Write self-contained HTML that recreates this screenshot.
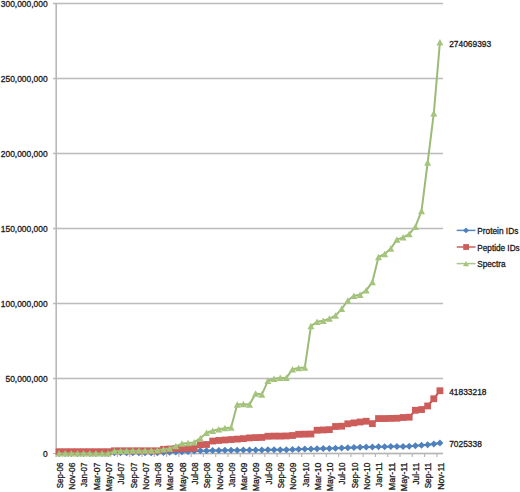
<!DOCTYPE html>
<html><head><meta charset="utf-8"><style>
html,body{margin:0;padding:0;background:#fff;width:520px;height:492px;overflow:hidden;}
svg{display:block;font-family:"Liberation Sans",sans-serif;}
</style></head><body>
<svg width="520" height="492" viewBox="0 0 520 492">
<line x1="53" y1="3.5" x2="443" y2="3.5" stroke="#ececec" stroke-width="3"/>
<line x1="53" y1="3.5" x2="443" y2="3.5" stroke="#bcbcbc" stroke-width="1"/>
<line x1="53" y1="78.5" x2="443" y2="78.5" stroke="#ececec" stroke-width="3"/>
<line x1="53" y1="78.5" x2="443" y2="78.5" stroke="#bcbcbc" stroke-width="1"/>
<line x1="53" y1="153.5" x2="443" y2="153.5" stroke="#ececec" stroke-width="3"/>
<line x1="53" y1="153.5" x2="443" y2="153.5" stroke="#bcbcbc" stroke-width="1"/>
<line x1="53" y1="228.5" x2="443" y2="228.5" stroke="#ececec" stroke-width="3"/>
<line x1="53" y1="228.5" x2="443" y2="228.5" stroke="#bcbcbc" stroke-width="1"/>
<line x1="53" y1="303.5" x2="443" y2="303.5" stroke="#ececec" stroke-width="3"/>
<line x1="53" y1="303.5" x2="443" y2="303.5" stroke="#bcbcbc" stroke-width="1"/>
<line x1="53" y1="378.5" x2="443" y2="378.5" stroke="#ececec" stroke-width="3"/>
<line x1="53" y1="378.5" x2="443" y2="378.5" stroke="#bcbcbc" stroke-width="1"/>
<line x1="56" y1="453.5" x2="443" y2="453.5" stroke="#e6e6e6" stroke-width="3"/>
<line x1="53" y1="453.5" x2="443" y2="453.5" stroke="#b4b4b4" stroke-width="1"/>
<line x1="56.2" y1="3" x2="56.2" y2="454" stroke="#b8b8b8" stroke-width="1.6"/>
<line x1="56.00" y1="453.5" x2="56.00" y2="457" stroke="#b8b8b8" stroke-width="1.2"/>
<line x1="68.29" y1="453.5" x2="68.29" y2="457" stroke="#b8b8b8" stroke-width="1.2"/>
<line x1="80.57" y1="453.5" x2="80.57" y2="457" stroke="#b8b8b8" stroke-width="1.2"/>
<line x1="92.86" y1="453.5" x2="92.86" y2="457" stroke="#b8b8b8" stroke-width="1.2"/>
<line x1="105.14" y1="453.5" x2="105.14" y2="457" stroke="#b8b8b8" stroke-width="1.2"/>
<line x1="117.43" y1="453.5" x2="117.43" y2="457" stroke="#b8b8b8" stroke-width="1.2"/>
<line x1="129.72" y1="453.5" x2="129.72" y2="457" stroke="#b8b8b8" stroke-width="1.2"/>
<line x1="142.00" y1="453.5" x2="142.00" y2="457" stroke="#b8b8b8" stroke-width="1.2"/>
<line x1="154.29" y1="453.5" x2="154.29" y2="457" stroke="#b8b8b8" stroke-width="1.2"/>
<line x1="166.57" y1="453.5" x2="166.57" y2="457" stroke="#b8b8b8" stroke-width="1.2"/>
<line x1="178.86" y1="453.5" x2="178.86" y2="457" stroke="#b8b8b8" stroke-width="1.2"/>
<line x1="191.15" y1="453.5" x2="191.15" y2="457" stroke="#b8b8b8" stroke-width="1.2"/>
<line x1="203.43" y1="453.5" x2="203.43" y2="457" stroke="#b8b8b8" stroke-width="1.2"/>
<line x1="215.72" y1="453.5" x2="215.72" y2="457" stroke="#b8b8b8" stroke-width="1.2"/>
<line x1="228.00" y1="453.5" x2="228.00" y2="457" stroke="#b8b8b8" stroke-width="1.2"/>
<line x1="240.29" y1="453.5" x2="240.29" y2="457" stroke="#b8b8b8" stroke-width="1.2"/>
<line x1="252.58" y1="453.5" x2="252.58" y2="457" stroke="#b8b8b8" stroke-width="1.2"/>
<line x1="264.86" y1="453.5" x2="264.86" y2="457" stroke="#b8b8b8" stroke-width="1.2"/>
<line x1="277.15" y1="453.5" x2="277.15" y2="457" stroke="#b8b8b8" stroke-width="1.2"/>
<line x1="289.43" y1="453.5" x2="289.43" y2="457" stroke="#b8b8b8" stroke-width="1.2"/>
<line x1="301.72" y1="453.5" x2="301.72" y2="457" stroke="#b8b8b8" stroke-width="1.2"/>
<line x1="314.01" y1="453.5" x2="314.01" y2="457" stroke="#b8b8b8" stroke-width="1.2"/>
<line x1="326.29" y1="453.5" x2="326.29" y2="457" stroke="#b8b8b8" stroke-width="1.2"/>
<line x1="338.58" y1="453.5" x2="338.58" y2="457" stroke="#b8b8b8" stroke-width="1.2"/>
<line x1="350.86" y1="453.5" x2="350.86" y2="457" stroke="#b8b8b8" stroke-width="1.2"/>
<line x1="363.15" y1="453.5" x2="363.15" y2="457" stroke="#b8b8b8" stroke-width="1.2"/>
<line x1="375.44" y1="453.5" x2="375.44" y2="457" stroke="#b8b8b8" stroke-width="1.2"/>
<line x1="387.72" y1="453.5" x2="387.72" y2="457" stroke="#b8b8b8" stroke-width="1.2"/>
<line x1="400.01" y1="453.5" x2="400.01" y2="457" stroke="#b8b8b8" stroke-width="1.2"/>
<line x1="412.29" y1="453.5" x2="412.29" y2="457" stroke="#b8b8b8" stroke-width="1.2"/>
<line x1="424.58" y1="453.5" x2="424.58" y2="457" stroke="#b8b8b8" stroke-width="1.2"/>
<line x1="436.87" y1="453.5" x2="436.87" y2="457" stroke="#b8b8b8" stroke-width="1.2"/>
<text x="0.83" y="6.7" textLength="46.77" lengthAdjust="spacingAndGlyphs" font-size="8.7" fill="#1a1a1a" stroke="#1a1a1a" stroke-width="0.3">300,000,000</text>
<text x="0.83" y="81.7" textLength="46.77" lengthAdjust="spacingAndGlyphs" font-size="8.7" fill="#1a1a1a" stroke="#1a1a1a" stroke-width="0.3">250,000,000</text>
<text x="0.83" y="156.7" textLength="46.77" lengthAdjust="spacingAndGlyphs" font-size="8.7" fill="#1a1a1a" stroke="#1a1a1a" stroke-width="0.3">200,000,000</text>
<text x="0.83" y="231.7" textLength="46.77" lengthAdjust="spacingAndGlyphs" font-size="8.7" fill="#1a1a1a" stroke="#1a1a1a" stroke-width="0.3">150,000,000</text>
<text x="0.83" y="306.7" textLength="46.77" lengthAdjust="spacingAndGlyphs" font-size="8.7" fill="#1a1a1a" stroke="#1a1a1a" stroke-width="0.3">100,000,000</text>
<text x="5.52" y="381.7" textLength="42.08" lengthAdjust="spacingAndGlyphs" font-size="8.7" fill="#1a1a1a" stroke="#1a1a1a" stroke-width="0.3">50,000,000</text>
<text x="42.92" y="456.7" textLength="4.68" lengthAdjust="spacingAndGlyphs" font-size="8.7" fill="#1a1a1a" stroke="#1a1a1a" stroke-width="0.3">0</text>
<text transform="translate(62.87,462.6) rotate(-90)" x="-25.75" textLength="25.75" lengthAdjust="spacingAndGlyphs" font-size="8.7" fill="#1a1a1a" stroke="#1a1a1a" stroke-width="0.3">Sep-06</text>
<text transform="translate(75.16,462.6) rotate(-90)" x="-27.06" textLength="27.06" lengthAdjust="spacingAndGlyphs" font-size="8.7" fill="#1a1a1a" stroke="#1a1a1a" stroke-width="0.3">Nov-06</text>
<text transform="translate(87.44,462.6) rotate(-90)" x="-24.29" textLength="24.29" lengthAdjust="spacingAndGlyphs" font-size="8.7" fill="#1a1a1a" stroke="#1a1a1a" stroke-width="0.3">Jan-07</text>
<text transform="translate(99.73,462.6) rotate(-90)" x="-27.60" textLength="27.60" lengthAdjust="spacingAndGlyphs" font-size="8.7" fill="#1a1a1a" stroke="#1a1a1a" stroke-width="0.3">Mar-07</text>
<text transform="translate(112.02,462.6) rotate(-90)" x="-28.55" textLength="28.55" lengthAdjust="spacingAndGlyphs" font-size="8.7" fill="#1a1a1a" stroke="#1a1a1a" stroke-width="0.3">May-07</text>
<text transform="translate(124.30,462.6) rotate(-90)" x="-21.99" textLength="21.99" lengthAdjust="spacingAndGlyphs" font-size="8.7" fill="#1a1a1a" stroke="#1a1a1a" stroke-width="0.3">Jul-07</text>
<text transform="translate(136.59,462.6) rotate(-90)" x="-25.75" textLength="25.75" lengthAdjust="spacingAndGlyphs" font-size="8.7" fill="#1a1a1a" stroke="#1a1a1a" stroke-width="0.3">Sep-07</text>
<text transform="translate(148.87,462.6) rotate(-90)" x="-27.06" textLength="27.06" lengthAdjust="spacingAndGlyphs" font-size="8.7" fill="#1a1a1a" stroke="#1a1a1a" stroke-width="0.3">Nov-07</text>
<text transform="translate(161.16,462.6) rotate(-90)" x="-24.29" textLength="24.29" lengthAdjust="spacingAndGlyphs" font-size="8.7" fill="#1a1a1a" stroke="#1a1a1a" stroke-width="0.3">Jan-08</text>
<text transform="translate(173.45,462.6) rotate(-90)" x="-27.60" textLength="27.60" lengthAdjust="spacingAndGlyphs" font-size="8.7" fill="#1a1a1a" stroke="#1a1a1a" stroke-width="0.3">Mar-08</text>
<text transform="translate(185.73,462.6) rotate(-90)" x="-28.55" textLength="28.55" lengthAdjust="spacingAndGlyphs" font-size="8.7" fill="#1a1a1a" stroke="#1a1a1a" stroke-width="0.3">May-08</text>
<text transform="translate(198.02,462.6) rotate(-90)" x="-21.99" textLength="21.99" lengthAdjust="spacingAndGlyphs" font-size="8.7" fill="#1a1a1a" stroke="#1a1a1a" stroke-width="0.3">Jul-08</text>
<text transform="translate(210.30,462.6) rotate(-90)" x="-25.75" textLength="25.75" lengthAdjust="spacingAndGlyphs" font-size="8.7" fill="#1a1a1a" stroke="#1a1a1a" stroke-width="0.3">Sep-08</text>
<text transform="translate(222.59,462.6) rotate(-90)" x="-27.06" textLength="27.06" lengthAdjust="spacingAndGlyphs" font-size="8.7" fill="#1a1a1a" stroke="#1a1a1a" stroke-width="0.3">Nov-08</text>
<text transform="translate(234.88,462.6) rotate(-90)" x="-24.29" textLength="24.29" lengthAdjust="spacingAndGlyphs" font-size="8.7" fill="#1a1a1a" stroke="#1a1a1a" stroke-width="0.3">Jan-09</text>
<text transform="translate(247.16,462.6) rotate(-90)" x="-27.60" textLength="27.60" lengthAdjust="spacingAndGlyphs" font-size="8.7" fill="#1a1a1a" stroke="#1a1a1a" stroke-width="0.3">Mar-09</text>
<text transform="translate(259.45,462.6) rotate(-90)" x="-28.55" textLength="28.55" lengthAdjust="spacingAndGlyphs" font-size="8.7" fill="#1a1a1a" stroke="#1a1a1a" stroke-width="0.3">May-09</text>
<text transform="translate(271.73,462.6) rotate(-90)" x="-21.99" textLength="21.99" lengthAdjust="spacingAndGlyphs" font-size="8.7" fill="#1a1a1a" stroke="#1a1a1a" stroke-width="0.3">Jul-09</text>
<text transform="translate(284.02,462.6) rotate(-90)" x="-25.75" textLength="25.75" lengthAdjust="spacingAndGlyphs" font-size="8.7" fill="#1a1a1a" stroke="#1a1a1a" stroke-width="0.3">Sep-09</text>
<text transform="translate(296.31,462.6) rotate(-90)" x="-27.06" textLength="27.06" lengthAdjust="spacingAndGlyphs" font-size="8.7" fill="#1a1a1a" stroke="#1a1a1a" stroke-width="0.3">Nov-09</text>
<text transform="translate(308.59,462.6) rotate(-90)" x="-24.29" textLength="24.29" lengthAdjust="spacingAndGlyphs" font-size="8.7" fill="#1a1a1a" stroke="#1a1a1a" stroke-width="0.3">Jan-10</text>
<text transform="translate(320.88,462.6) rotate(-90)" x="-27.60" textLength="27.60" lengthAdjust="spacingAndGlyphs" font-size="8.7" fill="#1a1a1a" stroke="#1a1a1a" stroke-width="0.3">Mar-10</text>
<text transform="translate(333.16,462.6) rotate(-90)" x="-28.55" textLength="28.55" lengthAdjust="spacingAndGlyphs" font-size="8.7" fill="#1a1a1a" stroke="#1a1a1a" stroke-width="0.3">May-10</text>
<text transform="translate(345.45,462.6) rotate(-90)" x="-21.99" textLength="21.99" lengthAdjust="spacingAndGlyphs" font-size="8.7" fill="#1a1a1a" stroke="#1a1a1a" stroke-width="0.3">Jul-10</text>
<text transform="translate(357.74,462.6) rotate(-90)" x="-25.75" textLength="25.75" lengthAdjust="spacingAndGlyphs" font-size="8.7" fill="#1a1a1a" stroke="#1a1a1a" stroke-width="0.3">Sep-10</text>
<text transform="translate(370.02,462.6) rotate(-90)" x="-27.06" textLength="27.06" lengthAdjust="spacingAndGlyphs" font-size="8.7" fill="#1a1a1a" stroke="#1a1a1a" stroke-width="0.3">Nov-10</text>
<text transform="translate(382.31,462.6) rotate(-90)" x="-24.29" textLength="24.29" lengthAdjust="spacingAndGlyphs" font-size="8.7" fill="#1a1a1a" stroke="#1a1a1a" stroke-width="0.3">Jan-11</text>
<text transform="translate(394.59,462.6) rotate(-90)" x="-27.60" textLength="27.60" lengthAdjust="spacingAndGlyphs" font-size="8.7" fill="#1a1a1a" stroke="#1a1a1a" stroke-width="0.3">Mar-11</text>
<text transform="translate(406.88,462.6) rotate(-90)" x="-28.55" textLength="28.55" lengthAdjust="spacingAndGlyphs" font-size="8.7" fill="#1a1a1a" stroke="#1a1a1a" stroke-width="0.3">May-11</text>
<text transform="translate(419.17,462.6) rotate(-90)" x="-21.99" textLength="21.99" lengthAdjust="spacingAndGlyphs" font-size="8.7" fill="#1a1a1a" stroke="#1a1a1a" stroke-width="0.3">Jul-11</text>
<text transform="translate(431.45,462.6) rotate(-90)" x="-25.75" textLength="25.75" lengthAdjust="spacingAndGlyphs" font-size="8.7" fill="#1a1a1a" stroke="#1a1a1a" stroke-width="0.3">Sep-11</text>
<text transform="translate(443.74,462.6) rotate(-90)" x="-27.06" textLength="27.06" lengthAdjust="spacingAndGlyphs" font-size="8.7" fill="#1a1a1a" stroke="#1a1a1a" stroke-width="0.3">Nov-11</text>
<polyline points="59.07,453.50 65.21,453.50 71.36,453.50 77.50,453.50 83.64,453.50 89.79,453.50 95.93,453.50 102.07,453.50 108.22,453.50 114.36,452.75 120.50,452.75 126.64,452.75 132.79,452.75 138.93,452.75 145.07,452.75 151.22,452.75 157.36,452.75 163.50,452.52 169.65,452.30 175.79,452.00 181.93,451.85 188.07,451.40 194.22,451.10 200.36,450.80 206.50,450.65 212.65,450.50 218.79,450.41 224.93,450.32 231.08,450.23 237.22,450.14 243.36,450.05 249.50,449.99 255.65,449.94 261.79,449.88 267.93,449.82 274.08,449.77 280.22,449.71 286.36,449.66 292.51,449.60 298.65,449.30 304.79,449.07 310.93,448.91 317.08,448.75 323.22,448.58 329.36,448.42 335.51,448.25 341.65,448.02 347.79,447.80 353.94,447.57 360.08,447.35 366.22,447.12 372.36,446.90 378.51,446.80 384.65,446.70 390.79,446.60 396.94,446.60 403.08,446.60 409.22,446.30 415.37,445.70 421.51,445.25 427.65,444.80 433.79,444.05 439.94,442.96" fill="none" stroke="#4A7EBB" stroke-width="2.0" stroke-linejoin="round"/>
<g fill="#4F81BD">
<path d="M59.07 450.00L62.57 453.50L59.07 457.00L55.57 453.50Z"/>
<path d="M65.21 450.00L68.71 453.50L65.21 457.00L61.71 453.50Z"/>
<path d="M71.36 450.00L74.86 453.50L71.36 457.00L67.86 453.50Z"/>
<path d="M77.50 450.00L81.00 453.50L77.50 457.00L74.00 453.50Z"/>
<path d="M83.64 450.00L87.14 453.50L83.64 457.00L80.14 453.50Z"/>
<path d="M89.79 450.00L93.29 453.50L89.79 457.00L86.29 453.50Z"/>
<path d="M95.93 450.00L99.43 453.50L95.93 457.00L92.43 453.50Z"/>
<path d="M102.07 450.00L105.57 453.50L102.07 457.00L98.57 453.50Z"/>
<path d="M108.22 450.00L111.72 453.50L108.22 457.00L104.72 453.50Z"/>
<path d="M114.36 449.25L117.86 452.75L114.36 456.25L110.86 452.75Z"/>
<path d="M120.50 449.25L124.00 452.75L120.50 456.25L117.00 452.75Z"/>
<path d="M126.64 449.25L130.14 452.75L126.64 456.25L123.14 452.75Z"/>
<path d="M132.79 449.25L136.29 452.75L132.79 456.25L129.29 452.75Z"/>
<path d="M138.93 449.25L142.43 452.75L138.93 456.25L135.43 452.75Z"/>
<path d="M145.07 449.25L148.57 452.75L145.07 456.25L141.57 452.75Z"/>
<path d="M151.22 449.25L154.72 452.75L151.22 456.25L147.72 452.75Z"/>
<path d="M157.36 449.25L160.86 452.75L157.36 456.25L153.86 452.75Z"/>
<path d="M163.50 449.02L167.00 452.52L163.50 456.02L160.00 452.52Z"/>
<path d="M169.65 448.80L173.15 452.30L169.65 455.80L166.15 452.30Z"/>
<path d="M175.79 448.50L179.29 452.00L175.79 455.50L172.29 452.00Z"/>
<path d="M181.93 448.35L185.43 451.85L181.93 455.35L178.43 451.85Z"/>
<path d="M188.07 447.90L191.57 451.40L188.07 454.90L184.57 451.40Z"/>
<path d="M194.22 447.60L197.72 451.10L194.22 454.60L190.72 451.10Z"/>
<path d="M200.36 447.30L203.86 450.80L200.36 454.30L196.86 450.80Z"/>
<path d="M206.50 447.15L210.00 450.65L206.50 454.15L203.00 450.65Z"/>
<path d="M212.65 447.00L216.15 450.50L212.65 454.00L209.15 450.50Z"/>
<path d="M218.79 446.91L222.29 450.41L218.79 453.91L215.29 450.41Z"/>
<path d="M224.93 446.82L228.43 450.32L224.93 453.82L221.43 450.32Z"/>
<path d="M231.08 446.73L234.58 450.23L231.08 453.73L227.58 450.23Z"/>
<path d="M237.22 446.64L240.72 450.14L237.22 453.64L233.72 450.14Z"/>
<path d="M243.36 446.55L246.86 450.05L243.36 453.55L239.86 450.05Z"/>
<path d="M249.50 446.49L253.00 449.99L249.50 453.49L246.00 449.99Z"/>
<path d="M255.65 446.44L259.15 449.94L255.65 453.44L252.15 449.94Z"/>
<path d="M261.79 446.38L265.29 449.88L261.79 453.38L258.29 449.88Z"/>
<path d="M267.93 446.32L271.43 449.82L267.93 453.32L264.43 449.82Z"/>
<path d="M274.08 446.27L277.58 449.77L274.08 453.27L270.58 449.77Z"/>
<path d="M280.22 446.21L283.72 449.71L280.22 453.21L276.72 449.71Z"/>
<path d="M286.36 446.16L289.86 449.66L286.36 453.16L282.86 449.66Z"/>
<path d="M292.51 446.10L296.01 449.60L292.51 453.10L289.01 449.60Z"/>
<path d="M298.65 445.80L302.15 449.30L298.65 452.80L295.15 449.30Z"/>
<path d="M304.79 445.57L308.29 449.07L304.79 452.57L301.29 449.07Z"/>
<path d="M310.93 445.41L314.43 448.91L310.93 452.41L307.43 448.91Z"/>
<path d="M317.08 445.25L320.58 448.75L317.08 452.25L313.58 448.75Z"/>
<path d="M323.22 445.08L326.72 448.58L323.22 452.08L319.72 448.58Z"/>
<path d="M329.36 444.92L332.86 448.42L329.36 451.92L325.86 448.42Z"/>
<path d="M335.51 444.75L339.01 448.25L335.51 451.75L332.01 448.25Z"/>
<path d="M341.65 444.52L345.15 448.02L341.65 451.52L338.15 448.02Z"/>
<path d="M347.79 444.30L351.29 447.80L347.79 451.30L344.29 447.80Z"/>
<path d="M353.94 444.07L357.44 447.57L353.94 451.07L350.44 447.57Z"/>
<path d="M360.08 443.85L363.58 447.35L360.08 450.85L356.58 447.35Z"/>
<path d="M366.22 443.62L369.72 447.12L366.22 450.62L362.72 447.12Z"/>
<path d="M372.36 443.40L375.86 446.90L372.36 450.40L368.86 446.90Z"/>
<path d="M378.51 443.30L382.01 446.80L378.51 450.30L375.01 446.80Z"/>
<path d="M384.65 443.20L388.15 446.70L384.65 450.20L381.15 446.70Z"/>
<path d="M390.79 443.10L394.29 446.60L390.79 450.10L387.29 446.60Z"/>
<path d="M396.94 443.10L400.44 446.60L396.94 450.10L393.44 446.60Z"/>
<path d="M403.08 443.10L406.58 446.60L403.08 450.10L399.58 446.60Z"/>
<path d="M409.22 442.80L412.72 446.30L409.22 449.80L405.72 446.30Z"/>
<path d="M415.37 442.20L418.87 445.70L415.37 449.20L411.87 445.70Z"/>
<path d="M421.51 441.75L425.01 445.25L421.51 448.75L418.01 445.25Z"/>
<path d="M427.65 441.30L431.15 444.80L427.65 448.30L424.15 444.80Z"/>
<path d="M433.79 440.55L437.29 444.05L433.79 447.55L430.29 444.05Z"/>
<path d="M439.94 439.46L443.44 442.96L439.94 446.46L436.44 442.96Z"/>
</g>
<polyline points="59.07,451.70 65.21,451.70 71.36,451.70 77.50,451.70 83.64,451.70 89.79,451.70 95.93,451.70 102.07,451.70 108.22,451.70 114.36,450.80 120.50,450.80 126.64,450.80 132.79,450.80 138.93,450.80 145.07,450.80 151.22,450.80 157.36,450.80 163.50,449.30 169.65,449.00 175.79,448.55 181.93,448.40 188.07,448.25 194.22,448.25 200.36,444.80 206.50,444.50 212.65,441.05 218.79,440.45 224.93,440.00 231.08,439.55 237.22,439.10 243.36,438.65 249.50,437.90 255.65,437.60 261.79,437.45 267.93,436.25 274.08,436.10 280.22,436.10 286.36,435.95 292.51,435.50 298.65,434.30 304.79,434.15 310.93,434.00 317.08,430.25 323.22,429.95 329.36,429.65 335.51,426.50 341.65,426.20 347.79,423.80 353.94,422.90 360.08,422.00 366.22,421.25 372.36,423.65 378.51,418.55 384.65,418.55 390.79,418.40 396.94,418.25 403.08,417.50 409.22,417.20 415.37,410.30 421.51,409.55 427.65,405.95 433.79,398.75 439.94,390.75" fill="none" stroke="#BE4B48" stroke-width="2.0" stroke-linejoin="round"/>
<g fill="#CD5D5B">
<rect x="55.67" y="448.30" width="6.8" height="6.8"/>
<rect x="61.81" y="448.30" width="6.8" height="6.8"/>
<rect x="67.96" y="448.30" width="6.8" height="6.8"/>
<rect x="74.10" y="448.30" width="6.8" height="6.8"/>
<rect x="80.24" y="448.30" width="6.8" height="6.8"/>
<rect x="86.39" y="448.30" width="6.8" height="6.8"/>
<rect x="92.53" y="448.30" width="6.8" height="6.8"/>
<rect x="98.67" y="448.30" width="6.8" height="6.8"/>
<rect x="104.82" y="448.30" width="6.8" height="6.8"/>
<rect x="110.96" y="447.40" width="6.8" height="6.8"/>
<rect x="117.10" y="447.40" width="6.8" height="6.8"/>
<rect x="123.24" y="447.40" width="6.8" height="6.8"/>
<rect x="129.39" y="447.40" width="6.8" height="6.8"/>
<rect x="135.53" y="447.40" width="6.8" height="6.8"/>
<rect x="141.67" y="447.40" width="6.8" height="6.8"/>
<rect x="147.82" y="447.40" width="6.8" height="6.8"/>
<rect x="153.96" y="447.40" width="6.8" height="6.8"/>
<rect x="160.10" y="445.90" width="6.8" height="6.8"/>
<rect x="166.25" y="445.60" width="6.8" height="6.8"/>
<rect x="172.39" y="445.15" width="6.8" height="6.8"/>
<rect x="178.53" y="445.00" width="6.8" height="6.8"/>
<rect x="184.67" y="444.85" width="6.8" height="6.8"/>
<rect x="190.82" y="444.85" width="6.8" height="6.8"/>
<rect x="196.96" y="441.40" width="6.8" height="6.8"/>
<rect x="203.10" y="441.10" width="6.8" height="6.8"/>
<rect x="209.25" y="437.65" width="6.8" height="6.8"/>
<rect x="215.39" y="437.05" width="6.8" height="6.8"/>
<rect x="221.53" y="436.60" width="6.8" height="6.8"/>
<rect x="227.68" y="436.15" width="6.8" height="6.8"/>
<rect x="233.82" y="435.70" width="6.8" height="6.8"/>
<rect x="239.96" y="435.25" width="6.8" height="6.8"/>
<rect x="246.10" y="434.50" width="6.8" height="6.8"/>
<rect x="252.25" y="434.20" width="6.8" height="6.8"/>
<rect x="258.39" y="434.05" width="6.8" height="6.8"/>
<rect x="264.53" y="432.85" width="6.8" height="6.8"/>
<rect x="270.68" y="432.70" width="6.8" height="6.8"/>
<rect x="276.82" y="432.70" width="6.8" height="6.8"/>
<rect x="282.96" y="432.55" width="6.8" height="6.8"/>
<rect x="289.11" y="432.10" width="6.8" height="6.8"/>
<rect x="295.25" y="430.90" width="6.8" height="6.8"/>
<rect x="301.39" y="430.75" width="6.8" height="6.8"/>
<rect x="307.53" y="430.60" width="6.8" height="6.8"/>
<rect x="313.68" y="426.85" width="6.8" height="6.8"/>
<rect x="319.82" y="426.55" width="6.8" height="6.8"/>
<rect x="325.96" y="426.25" width="6.8" height="6.8"/>
<rect x="332.11" y="423.10" width="6.8" height="6.8"/>
<rect x="338.25" y="422.80" width="6.8" height="6.8"/>
<rect x="344.39" y="420.40" width="6.8" height="6.8"/>
<rect x="350.54" y="419.50" width="6.8" height="6.8"/>
<rect x="356.68" y="418.60" width="6.8" height="6.8"/>
<rect x="362.82" y="417.85" width="6.8" height="6.8"/>
<rect x="368.96" y="420.25" width="6.8" height="6.8"/>
<rect x="375.11" y="415.15" width="6.8" height="6.8"/>
<rect x="381.25" y="415.15" width="6.8" height="6.8"/>
<rect x="387.39" y="415.00" width="6.8" height="6.8"/>
<rect x="393.54" y="414.85" width="6.8" height="6.8"/>
<rect x="399.68" y="414.10" width="6.8" height="6.8"/>
<rect x="405.82" y="413.80" width="6.8" height="6.8"/>
<rect x="411.97" y="406.90" width="6.8" height="6.8"/>
<rect x="418.11" y="406.15" width="6.8" height="6.8"/>
<rect x="424.25" y="402.55" width="6.8" height="6.8"/>
<rect x="430.39" y="395.35" width="6.8" height="6.8"/>
<rect x="436.54" y="387.35" width="6.8" height="6.8"/>
</g>
<polyline points="59.07,453.43 65.21,453.43 71.36,453.43 77.50,453.43 83.64,453.43 89.79,453.43 95.93,453.43 102.07,453.43 108.22,453.43 114.36,451.10 120.50,450.95 126.64,450.80 132.79,450.65 138.93,450.65 145.07,450.65 151.22,450.50 157.36,450.20 163.50,449.30 169.65,448.55 175.79,446.15 181.93,443.60 188.07,443.00 194.22,442.40 200.36,438.20 206.50,432.80 212.65,430.70 218.79,429.35 224.93,428.15 231.08,427.55 237.22,404.45 243.36,404.15 249.50,404.45 255.65,393.50 261.79,394.55 267.93,380.90 274.08,378.80 280.22,377.90 286.36,377.90 292.51,369.20 298.65,368.00 304.79,367.55 310.93,326.15 317.08,321.80 323.22,320.75 329.36,318.65 335.51,315.65 341.65,308.90 347.79,300.50 353.94,295.70 360.08,294.80 366.22,290.30 372.36,282.05 378.51,257.00 384.65,254.00 390.79,248.45 396.94,239.60 403.08,237.35 409.22,234.05 415.37,226.70 421.51,211.10 427.65,162.50 433.79,113.30 439.94,42.40" fill="none" stroke="#9DBB78" stroke-width="2.0" stroke-linejoin="round"/>
<g fill="#A5C47C">
<path d="M59.07 450.12L62.57 456.62L55.57 456.62Z"/>
<path d="M65.21 450.12L68.71 456.62L61.71 456.62Z"/>
<path d="M71.36 450.12L74.86 456.62L67.86 456.62Z"/>
<path d="M77.50 450.12L81.00 456.62L74.00 456.62Z"/>
<path d="M83.64 450.12L87.14 456.62L80.14 456.62Z"/>
<path d="M89.79 450.12L93.29 456.62L86.29 456.62Z"/>
<path d="M95.93 450.12L99.43 456.62L92.43 456.62Z"/>
<path d="M102.07 450.12L105.57 456.62L98.57 456.62Z"/>
<path d="M108.22 450.12L111.72 456.62L104.72 456.62Z"/>
<path d="M114.36 447.80L117.86 454.30L110.86 454.30Z"/>
<path d="M120.50 447.65L124.00 454.15L117.00 454.15Z"/>
<path d="M126.64 447.50L130.14 454.00L123.14 454.00Z"/>
<path d="M132.79 447.35L136.29 453.85L129.29 453.85Z"/>
<path d="M138.93 447.35L142.43 453.85L135.43 453.85Z"/>
<path d="M145.07 447.35L148.57 453.85L141.57 453.85Z"/>
<path d="M151.22 447.20L154.72 453.70L147.72 453.70Z"/>
<path d="M157.36 446.90L160.86 453.40L153.86 453.40Z"/>
<path d="M163.50 446.00L167.00 452.50L160.00 452.50Z"/>
<path d="M169.65 445.25L173.15 451.75L166.15 451.75Z"/>
<path d="M175.79 442.85L179.29 449.35L172.29 449.35Z"/>
<path d="M181.93 440.30L185.43 446.80L178.43 446.80Z"/>
<path d="M188.07 439.70L191.57 446.20L184.57 446.20Z"/>
<path d="M194.22 439.10L197.72 445.60L190.72 445.60Z"/>
<path d="M200.36 434.90L203.86 441.40L196.86 441.40Z"/>
<path d="M206.50 429.50L210.00 436.00L203.00 436.00Z"/>
<path d="M212.65 427.40L216.15 433.90L209.15 433.90Z"/>
<path d="M218.79 426.05L222.29 432.55L215.29 432.55Z"/>
<path d="M224.93 424.85L228.43 431.35L221.43 431.35Z"/>
<path d="M231.08 424.25L234.58 430.75L227.58 430.75Z"/>
<path d="M237.22 401.15L240.72 407.65L233.72 407.65Z"/>
<path d="M243.36 400.85L246.86 407.35L239.86 407.35Z"/>
<path d="M249.50 401.15L253.00 407.65L246.00 407.65Z"/>
<path d="M255.65 390.20L259.15 396.70L252.15 396.70Z"/>
<path d="M261.79 391.25L265.29 397.75L258.29 397.75Z"/>
<path d="M267.93 377.60L271.43 384.10L264.43 384.10Z"/>
<path d="M274.08 375.50L277.58 382.00L270.58 382.00Z"/>
<path d="M280.22 374.60L283.72 381.10L276.72 381.10Z"/>
<path d="M286.36 374.60L289.86 381.10L282.86 381.10Z"/>
<path d="M292.51 365.90L296.01 372.40L289.01 372.40Z"/>
<path d="M298.65 364.70L302.15 371.20L295.15 371.20Z"/>
<path d="M304.79 364.25L308.29 370.75L301.29 370.75Z"/>
<path d="M310.93 322.85L314.43 329.35L307.43 329.35Z"/>
<path d="M317.08 318.50L320.58 325.00L313.58 325.00Z"/>
<path d="M323.22 317.45L326.72 323.95L319.72 323.95Z"/>
<path d="M329.36 315.35L332.86 321.85L325.86 321.85Z"/>
<path d="M335.51 312.35L339.01 318.85L332.01 318.85Z"/>
<path d="M341.65 305.60L345.15 312.10L338.15 312.10Z"/>
<path d="M347.79 297.20L351.29 303.70L344.29 303.70Z"/>
<path d="M353.94 292.40L357.44 298.90L350.44 298.90Z"/>
<path d="M360.08 291.50L363.58 298.00L356.58 298.00Z"/>
<path d="M366.22 287.00L369.72 293.50L362.72 293.50Z"/>
<path d="M372.36 278.75L375.86 285.25L368.86 285.25Z"/>
<path d="M378.51 253.70L382.01 260.20L375.01 260.20Z"/>
<path d="M384.65 250.70L388.15 257.20L381.15 257.20Z"/>
<path d="M390.79 245.15L394.29 251.65L387.29 251.65Z"/>
<path d="M396.94 236.30L400.44 242.80L393.44 242.80Z"/>
<path d="M403.08 234.05L406.58 240.55L399.58 240.55Z"/>
<path d="M409.22 230.75L412.72 237.25L405.72 237.25Z"/>
<path d="M415.37 223.40L418.87 229.90L411.87 229.90Z"/>
<path d="M421.51 207.80L425.01 214.30L418.01 214.30Z"/>
<path d="M427.65 159.20L431.15 165.70L424.15 165.70Z"/>
<path d="M433.79 110.00L437.29 116.50L430.29 116.50Z"/>
<path d="M439.94 39.10L443.44 45.60L436.44 45.60Z"/>
</g>
<text x="449.2" y="46.7" textLength="41.93" lengthAdjust="spacingAndGlyphs" font-size="8.7" fill="#1a1a1a" stroke="#1a1a1a" stroke-width="0.3">274069393</text>
<text x="449.2" y="394.9" textLength="37.27" lengthAdjust="spacingAndGlyphs" font-size="8.7" fill="#1a1a1a" stroke="#1a1a1a" stroke-width="0.3">41833218</text>
<text x="449.2" y="447.1" textLength="32.62" lengthAdjust="spacingAndGlyphs" font-size="8.7" fill="#1a1a1a" stroke="#1a1a1a" stroke-width="0.3">7025338</text>
<line x1="456.7" y1="230.4" x2="475.5" y2="230.4" stroke="#5587C4" stroke-width="1.5"/>
<g fill="#4F81BD"><path d="M466 227.50L469 230.40L466 233.30L463 230.40Z"/></g>
<text x="477.3" y="234.2" textLength="41.02" lengthAdjust="spacingAndGlyphs" font-size="8.7" fill="#1a1a1a" stroke="#1a1a1a" stroke-width="0.3">Protein IDs</text>
<line x1="456.7" y1="247.0" x2="475.5" y2="247.0" stroke="#C8605E" stroke-width="1.5"/>
<g fill="#CD5D5B"><rect x="463.2" y="244.10" width="5.8" height="5.8"/></g>
<text x="477.3" y="250.8" textLength="42.38" lengthAdjust="spacingAndGlyphs" font-size="8.7" fill="#1a1a1a" stroke="#1a1a1a" stroke-width="0.3">Peptide IDs</text>
<line x1="456.7" y1="263.6" x2="475.5" y2="263.6" stroke="#A9C68A" stroke-width="1.5"/>
<g fill="#A5C47C"><path d="M466 261.00L469 266.20L463 266.20Z"/></g>
<text x="477.3" y="267.4" textLength="28.20" lengthAdjust="spacingAndGlyphs" font-size="8.7" fill="#1a1a1a" stroke="#1a1a1a" stroke-width="0.3">Spectra</text>
</svg>
</body></html>
